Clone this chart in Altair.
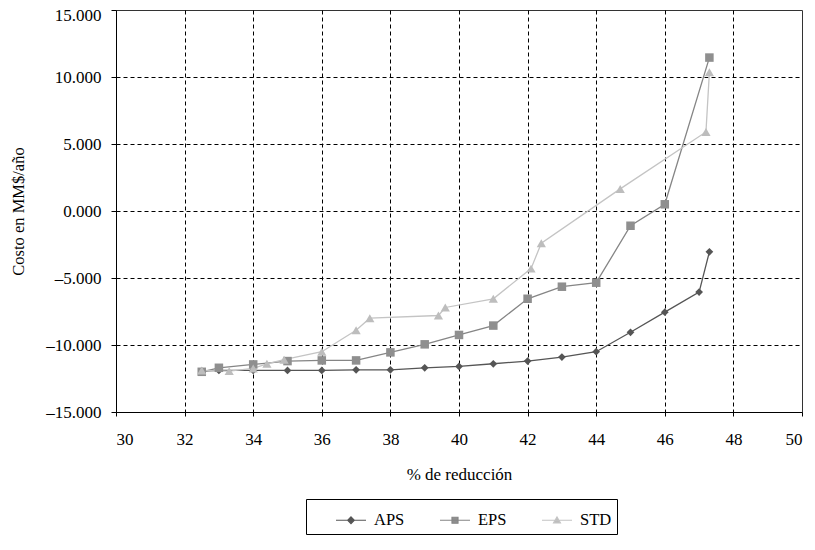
import altair as alt
import pandas as pd

series_names = ["APS", "EPS", "STD"]

aps_x = [32.5, 33, 34, 35, 36, 37, 38, 39, 40, 41, 42, 43, 44, 45, 46, 47, 47.3]
aps_y = [-11950, -11900, -11900, -11900, -11900, -11850, -11850, -11700, -11600,
         -11400, -11200, -10900, -10500, -9050, -7550, -6050, -3050]

eps_x = [32.5, 33, 34, 35, 36, 37, 38, 39, 40, 41, 42, 43, 44, 45, 46, 47.3]
eps_y = [-12000, -11700, -11450, -11200, -11150, -11150, -10550, -9950, -9250,
         -8550, -6550, -5650, -5350, -1100, 500, 11450]

std_x = [32.5, 33.3, 34, 34.4, 34.9, 36, 37, 37.4, 39.4, 39.6, 41, 42.1, 42.4,
         44.7, 47.2, 47.3]
std_y = [-11900, -11950, -11750, -11400, -11100, -10500, -8900, -8000, -7800,
         -7200, -6550, -4300, -2400, 1650, 5900, 10350]

x_ticks = [30, 32, 34, 36, 38, 40, 42, 44, 46, 48, 50]
y_ticks = [-15000, -10000, -5000, 0, 5000, 10000, 15000]

rows = []
for name, xs, ys in [("APS", aps_x, aps_y), ("EPS", eps_x, eps_y), ("STD", std_x, std_y)]:
    for a, b in zip(xs, ys):
        rows.append({"serie": name, "reduccion": a, "costo": b})
df = pd.DataFrame(rows)

FONT = "Liberation Serif"
line_colors = ["#555555", "#858585", "#c4c4c4"]
marker_colors = ["#555555", "#8f8f8f", "#bdbdbd"]
marker_shapes = ["diamond", "square", "triangle-up"]
marker_sizes = [60, 85, 80]
legend_shapes = [
    "M-1,0H1M0,-0.22L0.22,0L0,0.22L-0.22,0Z",
    "M-1,0H1M-0.2,-0.2H0.2V0.2H-0.2Z",
    "M-1,0H1M0,-0.22L0.23,0.18H-0.23Z",
]

x_enc = alt.X(
    "reduccion:Q",
    scale=alt.Scale(domain=[30, 50], nice=False, zero=False),
    axis=alt.Axis(
        values=x_ticks, title="% de reducción", labelFont=FONT, labelFontSize=17,
        labelColor="black", titleFont=FONT, titleFontSize=17, titleFontWeight="normal",
        titleColor="black", tickSize=4, tickColor="black", labelPadding=15,
        domainColor="black", grid=True, gridColor="black", gridDash=[4, 3],
        gridOpacity={"condition": {"test": "datum.value == 30 || datum.value == 50", "value": 0}, "value": 1},
        titleX=343, titleY=62, titleBaseline="middle", titleAnchor="middle",
    ),
)
y_enc = alt.Y(
    "costo:Q",
    scale=alt.Scale(domain=[-15000, 15000], nice=False),
    axis=alt.Axis(
        values=y_ticks, title="Costo en MM$/año", labelFont=FONT, labelFontSize=17,
        labelColor="black", titleFont=FONT, titleFontSize=16.5, titleFontWeight="normal",
        titleColor="black", tickSize=5, tickColor="black", labelPadding=10,
        domainColor="black", grid=True, gridColor="black", gridDash=[4, 3],
        gridOpacity={"condition": {"test": "abs(datum.value) == 15000", "value": 0}, "value": 1},
        labelOffset={"condition": {"test": "datum.value == 15000", "value": 5}, "value": 0},
        labelExpr="(datum.value < 0 ? '–' : '') + format(abs(datum.value) / 1000, '.3f')",
        titleX=-93, titleY=201, titleAngle=-90, titleBaseline="alphabetic", titleAnchor="middle",
    ),
)

base = alt.Chart(df)

lines = base.mark_line(strokeWidth=1.3).encode(
    x=x_enc, y=y_enc,
    color=alt.Color("serie:N", scale=alt.Scale(domain=series_names, range=line_colors), legend=None),
)

points = base.mark_point(filled=True, opacity=1).encode(
    x=x_enc, y=y_enc,
    color=alt.Color("serie:N", scale=alt.Scale(domain=series_names, range=marker_colors), legend=None),
    shape=alt.Shape("serie:N", scale=alt.Scale(domain=series_names, range=marker_shapes), legend=None),
    size=alt.Size("serie:N", scale=alt.Scale(domain=series_names, range=marker_sizes), legend=None),
)

leg = alt.Legend(
    title=None, orient="none", legendX=190, legendY=489, direction="horizontal",
    symbolSize=900, symbolStrokeWidth=1.2, symbolOpacity=1, symbolOffset=24,
    labelFont=FONT, labelFontSize=16.5, labelColor="black", labelOffset=7,
    columnPadding=10, padding=5, strokeColor="black",
)

legend_layer = base.mark_point(filled=True, opacity=0).encode(
    x=x_enc, y=y_enc,
    color=alt.Color("serie:N", scale=alt.Scale(domain=series_names, range=marker_colors), legend=leg),
    stroke=alt.Stroke("serie:N", scale=alt.Scale(domain=series_names, range=line_colors), legend=leg),
    shape=alt.Shape("serie:N", scale=alt.Scale(domain=series_names, range=legend_shapes), legend=leg),
)

chart = alt.layer(lines, points, legend_layer).resolve_scale(
    color="independent", shape="independent", stroke="independent", size="independent"
).properties(
    width=686, height=402,
    padding={"left": 108, "top": 2, "right": 5, "bottom": 130},
    autosize=alt.AutoSizeParams(type="none"),
    background="white",
).configure_view(stroke="#333333", strokeWidth=1)

chart.save("out.html", embed_options={"renderer": "svg", "actions": False})
